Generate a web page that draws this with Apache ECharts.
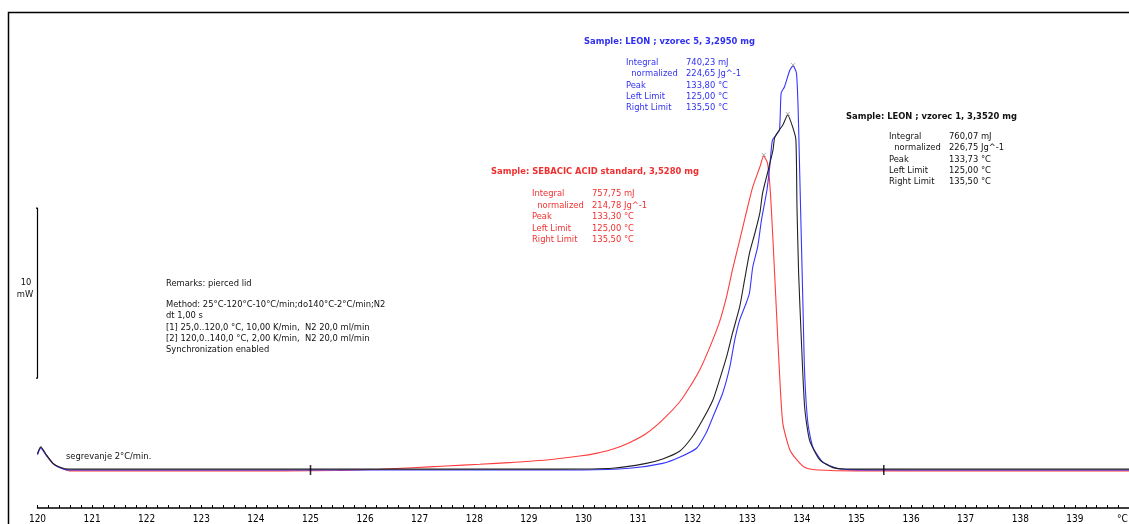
<!DOCTYPE html>
<html>
<head>
<meta charset="utf-8">
<script src="https://cdn.jsdelivr.net/npm/echarts@6/dist/echarts.min.js"></script>
<style>
html,body{margin:0;padding:0;background:#fff;}
#c{width:1129px;height:524px;}
</style>
</head>
<body>
<div id="c"></div>
<script>
// ---- DATA (temperature °C, heat flow mW relative to baseline) ----
const redTemp = [120.00,120.06,120.16,120.28,120.40,120.58,121.5,123.0,124.5,125.5,126.26,126.87,127.49,128.10,128.70,129.32,129.93,130.23,130.53,130.84,131.15,131.45,131.76,131.94,132.13,132.31,132.49,132.62,132.73,132.86,132.98,133.10,133.23,133.30,133.37,133.42,133.47,133.53,133.59,133.65,133.78,133.96,134.08,134.30,135.0,137.0,140.0];
const redMW   = [0.94,1.34,0.88,0.39,0.16,-0.05,-0.05,-0.05,-0.05,-0.03,0.04,0.135,0.235,0.335,0.45,0.59,0.82,0.98,1.22,1.61,2.15,2.95,4.0,4.85,5.9,7.2,8.7,10.2,11.8,13.5,15.12,16.65,17.82,18.47,18.06,16.47,13.53,9.59,5.71,2.76,1.18,0.41,0.12,0.0,-0.05,-0.05,-0.05];

const blackTemp = [120.00,120.06,120.16,120.28,120.40,120.58,122.0,124.0,126.0,128.0,129.5,130.53,131.15,131.45,131.76,131.99,132.18,132.37,132.49,132.62,132.73,132.86,132.95,133.04,133.14,133.23,133.28,133.37,133.47,133.50,133.56,133.65,133.74,133.83,133.89,133.91,133.94,133.99,134.05,134.14,134.33,134.57,134.80,135.5,140.0];
const blackMW   = [0.97,1.37,0.90,0.41,0.18,0.05,0.05,0.05,0.05,0.05,0.05,0.10,0.39,0.65,1.1,1.94,2.94,4.12,5.29,6.65,8.06,9.59,11.18,12.76,13.94,15.12,16.29,17.47,18.82,19.53,19.88,20.29,20.88,20.18,19.41,15.47,11.59,7.65,3.71,1.76,0.59,0.14,0.06,0.05,0.05];

const blueTemp = [120.00,120.06,120.16,120.28,120.40,120.58,122.0,124.0,126.0,128.0,130.0,130.84,131.45,131.76,132.07,132.25,132.37,132.55,132.68,132.77,132.86,132.98,133.04,133.10,133.19,133.26,133.36,133.41,133.46,133.53,133.59,133.62,133.68,133.78,133.84,133.90,133.93,133.96,133.99,134.02,134.05,134.11,134.20,134.38,134.63,134.90,136.0,140.0];
const blueMW   = [0.90,1.30,0.86,0.38,0.15,0.0,0.0,0.0,0.0,0.0,0.0,0.10,0.39,0.75,1.28,2.2,3.12,4.53,6.06,7.65,8.82,9.82,10.41,11.94,13.12,14.71,16.47,17.82,19.41,19.71,20.0,22.18,22.53,23.53,23.76,23.35,21.35,17.47,13.53,9.59,5.71,2.76,1.35,0.47,0.12,0.02,0.0,0.0];

const limitTemps = [125.0, 135.5];          // integration limit markers
const scaleBarTemp = 120;                   // 10 mW scale bar position
const scaleBarMW = [5.4, 15.4];             // 10 mW span
const xTicks = {min:120, max:140, interval:1};

const blueInfo  = {title:'Sample: LEON ; vzorec 5, 3,2950 mg', labels:['Integral','  normalized','Peak','Left Limit','Right Limit'], values:['740,23 mJ','224,65 Jg^-1','133,80 °C','125,00 °C','135,50 °C']};
const blackInfo = {title:'Sample: LEON ; vzorec 1, 3,3520 mg', labels:['Integral','  normalized','Peak','Left Limit','Right Limit'], values:['760,07 mJ','226,75 Jg^-1','133,73 °C','125,00 °C','135,50 °C']};
const redInfo   = {title:'Sample: SEBACIC ACID standard, 3,5280 mg', labels:['Integral','  normalized','Peak','Left Limit','Right Limit'], values:['757,75 mJ','214,78 Jg^-1','133,30 °C','125,00 °C','135,50 °C']};
const remarks = ['Remarks: pierced lid','','Method: 25°C-120°C-10°C/min;do140°C-2°C/min;N2','dt 1,00 s','[1] 25,0..120,0 °C, 10,00 K/min,  N2 20,0 ml/min','[2] 120,0..140,0 °C, 2,00 K/min,  N2 20,0 ml/min','Synchronization enabled'];
const heatingNote = 'segrevanje 2°C/min.';

// ---- BUILD ----
const zip = (a,b) => a.map((v,i)=>[v,b[i]]);
const peakOf = (t,m) => { let k = m.indexOf(Math.max(...m)); return [t[k], m[k]]; };
const FONT = "'DejaVu Sans Condensed','DejaVu Sans',sans-serif";
const BLUE = '#3030f0', RED = '#f03030', BLACK = '#111';

function textEl(x, y, text, color, bold, align){
  return {type:'text', x:x, y:y, silent:true, z:100,
    style:{text:text, fill:color, font:(bold?'bold ':'')+'9.3px '+FONT, align:align||'left', verticalAlign:'middle', textAlign:align||'left', textVerticalAlign:'middle'}};
}
function infoBlock(info, tx, ty, lx, vx, rows, color){
  const els = [textEl(tx, ty, info.title, color, true)];
  info.labels.forEach((l,i)=>{ els.push(textEl(lx, rows[i], l, color)); els.push(textEl(vx, rows[i], info.values[i], color)); });
  return els;
}

const graphics = [
  {type:'polyline', silent:true, shape:{points:[[8.5,524],[8.5,12.5],[1129,12.5]]}, style:{stroke:'#000', lineWidth:1.5, fill:null}},
  ...infoBlock(blueInfo, 584, 42, 626, 686, [63,74,86,97,108], BLUE),
  ...infoBlock(blackInfo, 846, 117, 889, 949, [137,148,159.5,171,182], BLACK),
  ...infoBlock(redInfo, 491, 172, 532, 592, [194,205.5,217,228.5,240], RED),
  textEl(26, 283, '10', BLACK, false, 'center'),
  textEl(25, 295, 'mW', BLACK, false, 'center'),
  textEl(66, 457, heatingNote, BLACK)
];
const remarkY = [284, 294.5, 305, 316, 327.5, 339, 350];
remarks.forEach((r,i)=>{ if(r) graphics.push(textEl(166, remarkY[i], r, BLACK)); });

const chart = echarts.init(document.getElementById('c'), null, {renderer:'canvas'});
chart.setOption({
  animation:false,
  backgroundColor:'#fff',
  grid:{left:37.5, width:1092, top:12, bottom:16, containLabel:false, outerBoundsMode:'none'},
  xAxis:{type:'value', min:xTicks.min, max:xTicks.max, interval:xTicks.interval,
    axisLine:{show:true, onZero:false, lineStyle:{color:'#000', width:1.5}},
    axisTick:{show:true, inside:true, length:3, lineStyle:{color:'#000'}},
    minorTick:{show:true, splitNumber:5, length:3, lineStyle:{color:'#000'}},
    splitLine:{show:false},
    axisLabel:{show:true, margin:6, color:'#000', fontSize:10, fontFamily:FONT, showMinLabel:true, showMaxLabel:true,
      formatter:v => v===140 ? '°C     ' : String(v)}},
  yAxis:{type:'value', min:-2.235, max:26.94, show:false, splitLine:{show:false}},
  series:[
    {type:'line', name:'SEBACIC ACID', data:zip(redTemp, redMW), showSymbol:false, smooth:0.2, lineStyle:{color:'#ff3b3b', width:1.1}, z:2},
    {type:'line', name:'LEON 5', data:zip(blueTemp, blueMW), showSymbol:false, smooth:0.2, lineStyle:{color:'#3535ff', width:1.1}, z:3},
    {type:'line', name:'LEON 1', data:zip(blackTemp, blackMW), showSymbol:false, smooth:0.2, lineStyle:{color:'#222', width:1.1}, z:4},
    {type:'scatter', data:[peakOf(redTemp,redMW), peakOf(blueTemp,blueMW), peakOf(blackTemp,blackMW)],
      symbol:'path://M0,0L10,10M10,0L0,10', symbolSize:4, symbolOffset:[0,-1],
      itemStyle:{color:'none', borderColor:'#777', borderWidth:0.8}, z:6, silent:true},
    {type:'scatter', data:limitTemps.map(t=>[t,0]), symbol:'rect', symbolSize:[1.6,10], itemStyle:{color:'#000'}, z:5, silent:true},
    {type:'line', data:[[scaleBarTemp-0.07,scaleBarMW[1]],[scaleBarTemp,scaleBarMW[1]],[scaleBarTemp,scaleBarMW[0]],[scaleBarTemp-0.07,scaleBarMW[0]]],
      showSymbol:false, clip:false, lineStyle:{color:'#000', width:1.2}, silent:true, z:5}
  ],
  graphic:graphics
});
</script>
</body>
</html>
